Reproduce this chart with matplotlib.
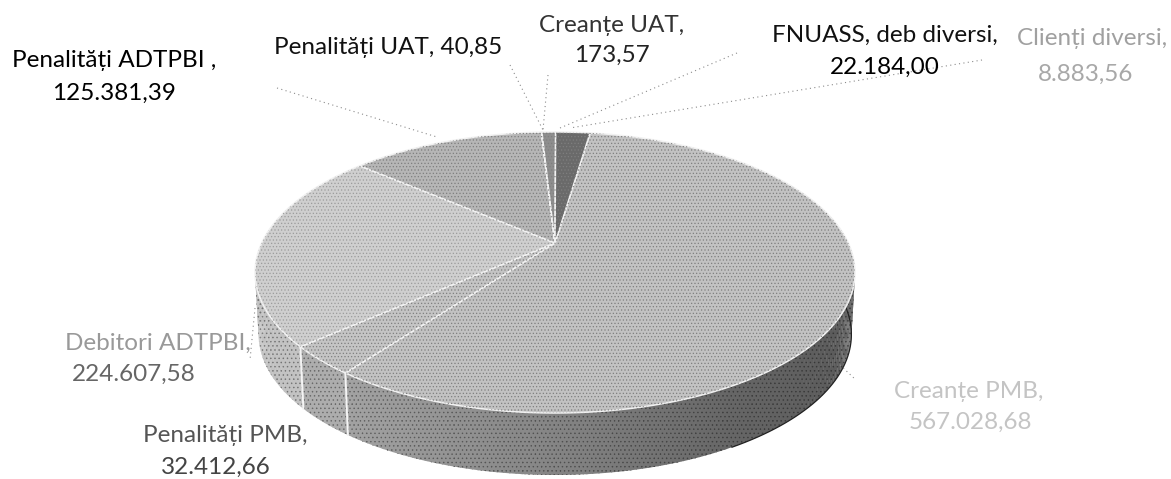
import numpy as np
import matplotlib
matplotlib.use("Agg")
import matplotlib.pyplot as plt
from matplotlib.patches import Polygon

categories = ["Creanțe PMB", "Penalități PMB", "Debitori ADTPBI", "Penalități ADTPBI",
              "Penalități UAT", "Creanțe UAT", "Clienți diversi", "FNUASS, deb diversi"]
values = [567028.68, 32412.66, 224607.58, 125381.39, 40.85, 173.57, 8883.56, 22184.00]
top_colors = ["#c2c2c2", "#c4c4c4", "#cfcfcf", "#b6b6b6", "#c0c0c0", "#909090", "#8e8e8e", "#6a6a6a"]

labels = [
    ("Penalități ADTPBI ,", 114, 60, "#000000"), ("125.381,39", 114, 93, "#000000"),
    ("Penalități UAT, 40,85", 388, 47, "#111111"),
    ("Creanțe UAT,", 612, 25, "#333333"), ("173,57", 612, 55, "#222222"),
    ("FNUASS, deb diversi,", 885, 35, "#111111"), ("22.184,00", 885, 67, "#000000"),
    ("Clienți diversi,", 1092, 38, "#a0a0a0"), ("8.883,56", 1086, 74, "#a8a8a8"),
    ("Debitori ADTPBI,", 158, 343, "#999999"), ("224.607,58", 134, 374, "#666666"),
    ("Penalități PMB,", 225, 435, "#555555"), ("32.412,66", 216, 467, "#444444"),
    ("Creanțe PMB,", 969, 392, "#c4c4c4"), ("567.028,68", 970, 422, "#c4c4c4"),
]
leaders = [
    ((277, 88), (437, 137)), ((510, 65), (543, 130)), ((548, 75), (543, 130)),
    ((737, 53), (560, 128)), ((982, 60), (570, 128)),
    ((840, 365), (856, 380)), ((255, 308), (250, 360)),
]

START = 8.3
CX, CY = 555, 243
A, B, K = 134.3, 293.3, 0.21
DEPTH = 62


def project(theta, depth=0.0):
    t = np.radians(theta)
    u, v = np.sin(t), np.cos(t)
    d = 1 + K * v
    return np.column_stack((CX + B * u / d * (1 - 0.012 * (depth > 0)),
                            CY - A * v / d + depth))


def side_gray(theta):
    x = np.sin(np.radians(theta))
    return np.interp(x, [-1, -0.5, 0, 0.5, 0.85, 1], [0.72, 0.62, 0.52, 0.40, 0.36, 0.44])


plt.rcParams["font.family"] = ["Lato", "DejaVu Sans"]
plt.rcParams["hatch.linewidth"] = 0.5
fig = plt.figure(figsize=(11.71, 4.79), dpi=100, facecolor="white")
ax = fig.add_axes([0, 0, 1, 1])
ax.set_xlim(0, 1171)
ax.set_ylim(479, 0)
ax.axis("off")

vals = np.array(values)
angles = START + np.concatenate(([0], np.cumsum(vals / vals.sum() * 360)))

# side wall
for th in np.arange(60, 300, 1.0):
    pts = np.vstack((project(np.array([th, th + 1.2])),
                     project(np.array([th + 1.2, th]), DEPTH)))
    g = side_gray(th + 0.5)
    if th + 0.5 > angles[1]:
        g = 0.68 if th + 0.5 < angles[2] else 0.76
    ax.add_patch(Polygon(pts, closed=True, facecolor=(g, g, g), edgecolor="none", zorder=1))
    ax.add_patch(Polygon(pts, closed=True, facecolor="none", edgecolor=(g * 0.6,) * 3,
                         hatch="....", linewidth=0, zorder=1.1))

# dark outline on the lower right of the wall
rim = project(np.linspace(70, 150, 60), DEPTH)
ax.plot(rim[:, 0], rim[:, 1], color="#222222", lw=0.9, zorder=1.2)

# white seams on the side wall
for a in angles[1:3]:
    p0 = project(np.array([a]))[0]
    p1 = project(np.array([a]), DEPTH)[0]
    ax.plot([p0[0], p1[0]], [p0[1], p1[1]], color="#f4f4f4", lw=1.4, zorder=2)

# top face
centre = np.array([[CX, CY]])
for i, c in enumerate(top_colors):
    th = np.linspace(angles[i], angles[i + 1], max(3, int(angles[i + 1] - angles[i]) * 2))
    pts = np.vstack((centre, project(th)))
    ax.add_patch(Polygon(pts, closed=True, facecolor=c, edgecolor="#f2f2f2", linewidth=1.1,
                         zorder=3, joinstyle="round"))
    ax.add_patch(Polygon(pts, closed=True, facecolor="none", edgecolor="#7f7f7f" if i != 2 else "#9c9c9c",
                         hatch=".....", linewidth=0, zorder=3.1))

# label leader lines
for (p, q) in leaders:
    ax.plot([p[0], q[0]], [p[1], q[1]], color="#8c8c8c", lw=0.8, ls=(0, (1, 3)), zorder=2)

for text, x, y, col in labels:
    ax.text(x, y, text, ha="center", va="center", fontsize=17.5, color=col, zorder=5)

fig.savefig("out.png", dpi=100)
